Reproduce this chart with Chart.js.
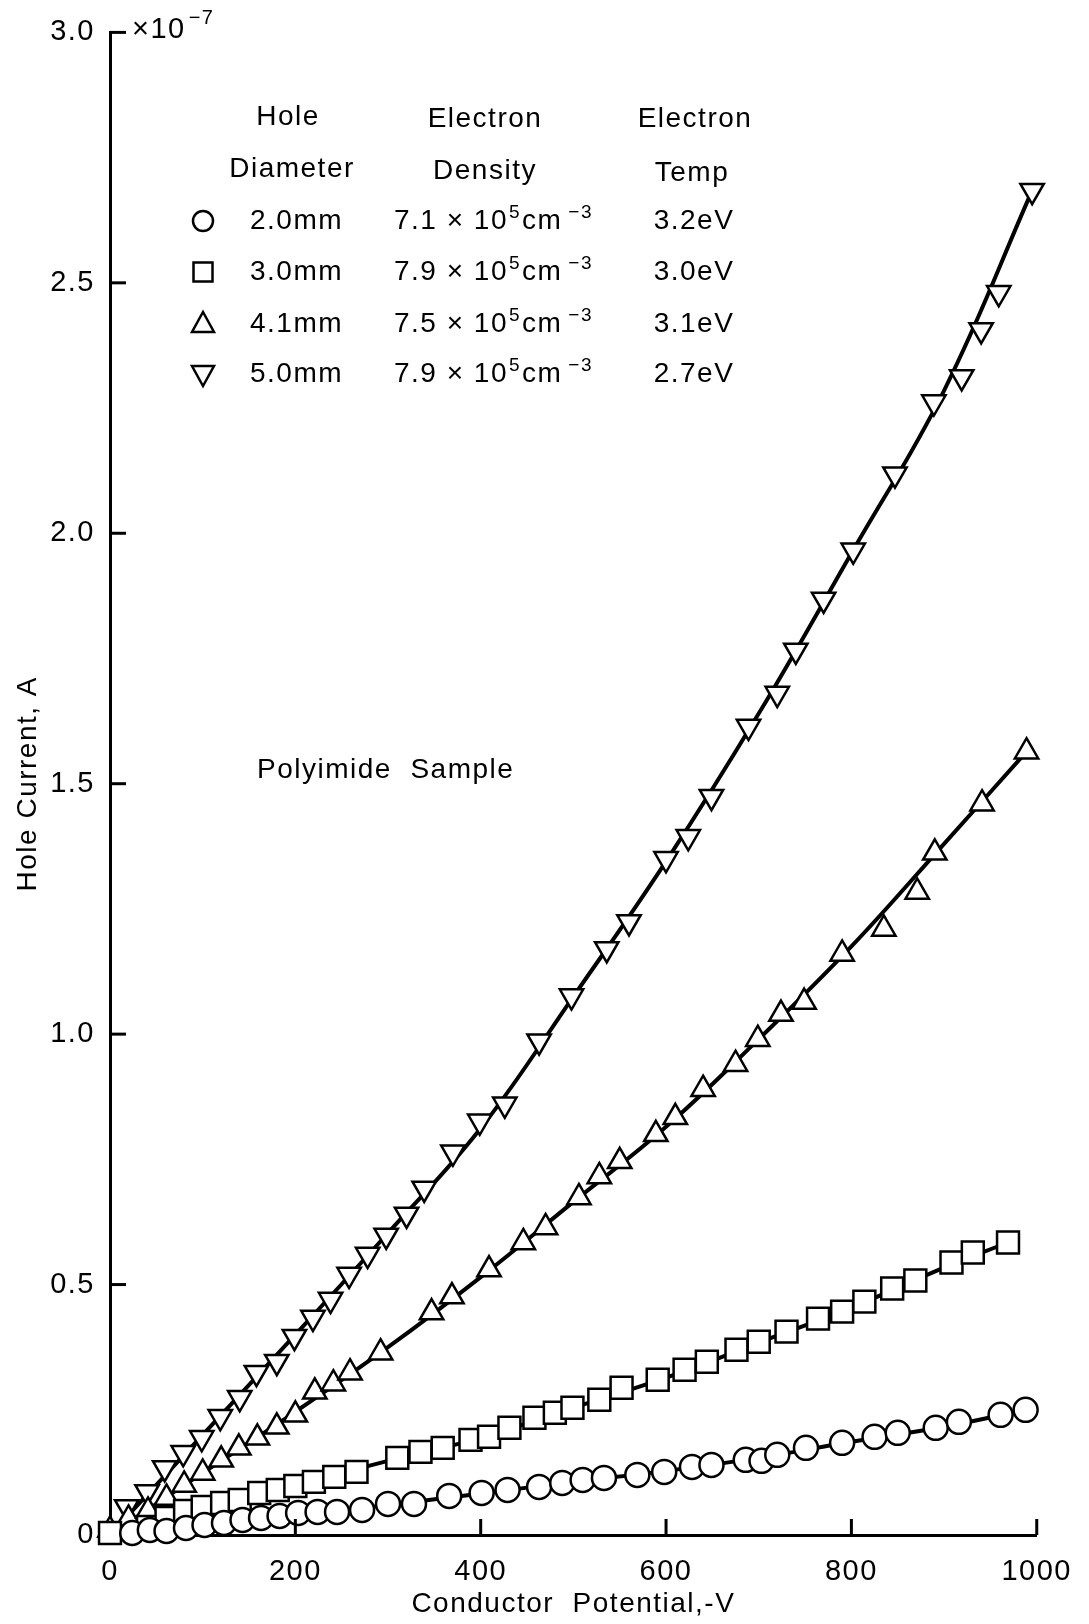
<!DOCTYPE html>
<html lang="en">
<head>
    <meta charset="UTF-8">
    <title>Hole Current vs Conductor Potential</title>
    <script src="https://cdn.jsdelivr.net/npm/chart.js"></script>
    <style>
        html, body { margin: 0; padding: 0; background: #fff; }
    </style>
</head>
<body>
    <canvas id="holeChart" width="1089" height="1624"></canvas>
    <script>
        // measured points, x = conductor potential (-V), y = hole current (x1e-7 A)
        const circleX = [24, 43, 61, 82, 102, 123, 143, 163, 183, 203, 224, 245, 272, 300, 328, 366, 401, 429, 463, 488, 510, 533, 569, 598, 628, 649, 686, 703, 720, 751, 790, 825, 850, 891, 916, 961, 988];
        const circleY = [0.004, 0.010, 0.008, 0.014, 0.020, 0.024, 0.030, 0.034, 0.038, 0.044, 0.046, 0.046, 0.050, 0.062, 0.062, 0.078, 0.084, 0.090, 0.096, 0.104, 0.110, 0.114, 0.120, 0.126, 0.136, 0.140, 0.150, 0.148, 0.160, 0.174, 0.184, 0.196, 0.204, 0.214, 0.226, 0.240, 0.250];

        const squareX = [0, 41, 61, 81, 100, 121, 140, 161, 181, 200, 220, 242, 266, 310, 335, 359, 389, 409, 431, 458, 480, 499, 528, 552, 591, 620, 644, 676, 700, 730, 764, 790, 814, 844, 869, 908, 931, 969];
        const squareY = [0.004, 0.016, 0.034, 0.048, 0.056, 0.064, 0.070, 0.084, 0.090, 0.098, 0.106, 0.116, 0.126, 0.154, 0.166, 0.174, 0.190, 0.196, 0.214, 0.234, 0.244, 0.254, 0.270, 0.294, 0.310, 0.330, 0.346, 0.370, 0.386, 0.406, 0.432, 0.446, 0.466, 0.492, 0.508, 0.544, 0.564, 0.584];

        const upX = [0, 20, 41, 61, 80, 100, 120, 139, 159, 180, 200, 221, 241, 259, 292, 347, 369, 409, 446, 470, 506, 528, 550, 589, 610, 640, 675, 699, 724, 749, 790, 835, 871, 890, 941, 989];
        const upY = [0.010, 0.032, 0.048, 0.074, 0.100, 0.124, 0.150, 0.174, 0.194, 0.216, 0.240, 0.286, 0.302, 0.324, 0.364, 0.444, 0.476, 0.530, 0.584, 0.614, 0.674, 0.716, 0.746, 0.800, 0.834, 0.890, 0.940, 0.990, 1.040, 1.064, 1.160, 1.210, 1.284, 1.362, 1.460, 1.564];

        const downX = [18, 40, 59, 79, 99, 119, 140, 158, 180, 199, 219, 238, 258, 278, 298, 320, 339, 370, 399, 426, 463, 498, 536, 560, 600, 624, 649, 689, 720, 740, 770, 802, 847, 889, 919, 940, 959, 995];
        const downY = [0.056, 0.086, 0.134, 0.164, 0.194, 0.236, 0.274, 0.324, 0.346, 0.396, 0.434, 0.470, 0.520, 0.560, 0.598, 0.640, 0.692, 0.764, 0.826, 0.860, 0.986, 1.076, 1.170, 1.224, 1.350, 1.394, 1.474, 1.614, 1.680, 1.766, 1.868, 1.966, 2.118, 2.262, 2.312, 2.406, 2.480, 2.684];

        // smooth fitted curves
        const circleFitX = [0, 100, 200, 300, 400, 500, 600, 700, 800, 900, 988];
        const circleFitY = [0, 0.018, 0.040, 0.060, 0.083, 0.106, 0.128, 0.154, 0.186, 0.216, 0.250];
        const squareFitX = [0, 100, 200, 300, 400, 500, 600, 700, 800, 900, 969];
        const squareFitY = [0, 0.054, 0.100, 0.148, 0.194, 0.254, 0.314, 0.384, 0.454, 0.534, 0.584];
        const upFitX = [0, 100, 200, 300, 400, 500, 600, 700, 800, 900, 989];
        const upFitY = [0, 0.124, 0.246, 0.375, 0.515, 0.665, 0.815, 0.990, 1.175, 1.380, 1.564];
        const downFitX = [0, 100, 200, 300, 400, 500, 600, 700, 800, 900, 995];
        const downFitY = [0, 0.200, 0.400, 0.603, 0.812, 1.075, 1.345, 1.640, 1.960, 2.285, 2.684];

        // legend table
        const holeDiameters = ['2.0mm', '3.0mm', '4.1mm', '5.0mm'];
        const densityValues = ['7.1', '7.9', '7.5', '7.9'];
        const electronTemps = ['3.2eV', '3.0eV', '3.1eV', '2.7eV'];
        const markerShapes = ['circle', 'square', 'up', 'down'];

        const FONT = "'Liberation Sans', Arial, sans-serif";
        Chart.defaults.font.family = FONT;
        Chart.defaults.color = '#000';

        function pairs(xs, ys) {
            return xs.map((x, i) => ({ x: x, y: ys[i] }));
        }

        function markerSet(xs, ys, style, rotation, radius) {
            return {
                data: pairs(xs, ys),
                pointStyle: style,
                rotation: rotation,
                pointRadius: radius,
                pointBorderWidth: 2.5,
                pointBorderColor: '#000',
                pointBackgroundColor: '#fff',
                showLine: false,
                clip: false,
                order: 0
            };
        }

        function fitSet(xs, ys) {
            return {
                data: pairs(xs, ys),
                showLine: true,
                borderColor: '#000',
                borderWidth: 4,
                pointRadius: 0,
                tension: 0.4,
                clip: false,
                order: 1
            };
        }

        function drawMarker(ctx, shape, x, y) {
            ctx.beginPath();
            if (shape === 'circle') {
                ctx.arc(x, y, 10, 0, Math.PI * 2);
            } else if (shape === 'square') {
                ctx.rect(x - 9.5, y - 9.5, 19, 19);
            } else if (shape === 'up') {
                ctx.moveTo(x, y - 12);
                ctx.lineTo(x + 11, y + 8);
                ctx.lineTo(x - 11, y + 8);
                ctx.closePath();
            } else {
                ctx.moveTo(x, y + 12);
                ctx.lineTo(x + 11, y - 8);
                ctx.lineTo(x - 11, y - 8);
                ctx.closePath();
            }
            ctx.fillStyle = '#fff';
            ctx.fill();
            ctx.lineWidth = 2.5;
            ctx.strokeStyle = '#000';
            ctx.stroke();
        }

        // draws text pieces left to right, some of them raised as superscripts
        function drawParts(ctx, x, y, parts, size, lift) {
            ctx.textAlign = 'left';
            ctx.textBaseline = 'middle';
            ctx.fillStyle = '#000';
            parts.forEach(p => {
                const s = p.sup ? Math.round(size * 0.68) : size;
                ctx.font = s + 'px ' + FONT;
                ctx.fillText(p.t, x + (p.gap || 0), p.sup ? y - size * lift : y);
                x += (p.gap || 0) + ctx.measureText(p.t).width;
            });
        }

        const decorations = {
            id: 'decorations',
            beforeDraw(chart) {
                chart.ctx.letterSpacing = '1.5px';
            },
            afterDraw(chart) {
                const ctx = chart.ctx;
                const xs = chart.scales.x;
                const ys = chart.scales.y;
                ctx.save();
                ctx.strokeStyle = '#000';
                ctx.lineWidth = 3;

                // inward tick marks
                ys.ticks.forEach(t => {
                    if (t.value === 0) return;
                    const py = ys.getPixelForValue(t.value);
                    ctx.beginPath();
                    ctx.moveTo(xs.left, py);
                    ctx.lineTo(xs.left + 16, py);
                    ctx.stroke();
                });
                xs.ticks.forEach(t => {
                    if (t.value === 0) return;
                    const px = xs.getPixelForValue(t.value);
                    ctx.beginPath();
                    ctx.moveTo(px, ys.bottom);
                    ctx.lineTo(px, ys.bottom - 16);
                    ctx.stroke();
                });

                // axis multiplier
                const topY = ys.getPixelForValue(3.0);
                drawParts(ctx, xs.left + 22, topY - 2, [{ t: '×10' }, { t: '−7', sup: true, gap: 3 }], 29, 0.4);

                // legend header
                ctx.font = '28px ' + FONT;
                ctx.textAlign = 'center';
                ctx.textBaseline = 'middle';
                ctx.fillText('Hole', 288, 117);
                ctx.fillText('Diameter', 292, 169);
                ctx.fillText('Electron', 485, 119);
                ctx.fillText('Density', 485, 171);
                ctx.fillText('Electron', 695, 119);
                ctx.fillText('Temp', 692, 173);

                const rowY = [221, 272, 324, 374];
                holeDiameters.forEach((d, i) => {
                    const y = rowY[i];
                    drawMarker(ctx, markerShapes[i], 203, y);
                    ctx.font = '28px ' + FONT;
                    ctx.textAlign = 'left';
                    ctx.textBaseline = 'middle';
                    ctx.fillStyle = '#000';
                    ctx.fillText(d, 250, y);
                    drawParts(ctx, 394, y, [
                        { t: densityValues[i] + ' × 10' },
                        { t: '5', sup: true, gap: 1 },
                        { t: 'cm', gap: 1 },
                        { t: '−3', sup: true, gap: 6 }
                    ], 28, 0.28);
                    ctx.font = '28px ' + FONT;
                    ctx.textAlign = 'center';
                    ctx.fillText(electronTemps[i], 694, y);
                });

                ctx.font = '28px ' + FONT;
                ctx.textAlign = 'left';
                ctx.textBaseline = 'middle';
                ctx.fillText('Polyimide  Sample', 257, 770);

                ctx.restore();
                ctx.letterSpacing = '0px';
            }
        };

        const chart = new Chart(document.getElementById('holeChart').getContext('2d'), {
            type: 'scatter',
            data: {
                datasets: [
                    markerSet(circleX, circleY, 'circle', 0, 12),
                    markerSet(squareX, squareY, 'rect', 0, 15.5),
                    markerSet(upX, upY, 'triangle', 0, 13.5),
                    markerSet(downX, downY, 'triangle', 180, 13.5),
                    fitSet(circleFitX, circleFitY),
                    fitSet(squareFitX, squareFitY),
                    fitSet(upFitX, upFitY),
                    fitSet(downFitX, downFitY)
                ]
            },
            options: {
                responsive: false,
                animation: false,
                layout: { padding: { top: 32, right: 51, left: 0, bottom: 0 } },
                plugins: {
                    legend: { display: false },
                    tooltip: { enabled: false }
                },
                scales: {
                    x: {
                        type: 'linear',
                        min: 0,
                        max: 1000,
                        grid: { display: false, drawTicks: false },
                        border: { display: true, color: '#000', width: 3 },
                        ticks: {
                            stepSize: 200,
                            padding: 20,
                            maxRotation: 0,
                            font: { size: 29 },
                            callback: function(value) { return String(value); }
                        },
                        title: {
                            display: true,
                            text: 'Conductor  Potential,-V',
                            font: { size: 28 },
                            padding: { top: 0, bottom: 3 }
                        },
                        afterFit(scale) { scale.height = 89; }
                    },
                    y: {
                        min: 0,
                        max: 3,
                        grid: { display: false, drawTicks: false },
                        border: { display: true, color: '#000', width: 3 },
                        ticks: {
                            stepSize: 0.5,
                            padding: 15,
                            font: { size: 29 },
                            // only the zero tick is written without a decimal
                            callback: function(value) {
                                return value === 0 ? '0' : value.toFixed(1);
                            }
                        },
                        title: {
                            display: true,
                            text: 'Hole Current, A',
                            font: { size: 28 },
                            padding: { top: 11, bottom: 0 }
                        },
                        afterFit(scale) { scale.width = 110; }
                    }
                }
            },
            plugins: [decorations]
        });
    </script>
</body>
</html>
